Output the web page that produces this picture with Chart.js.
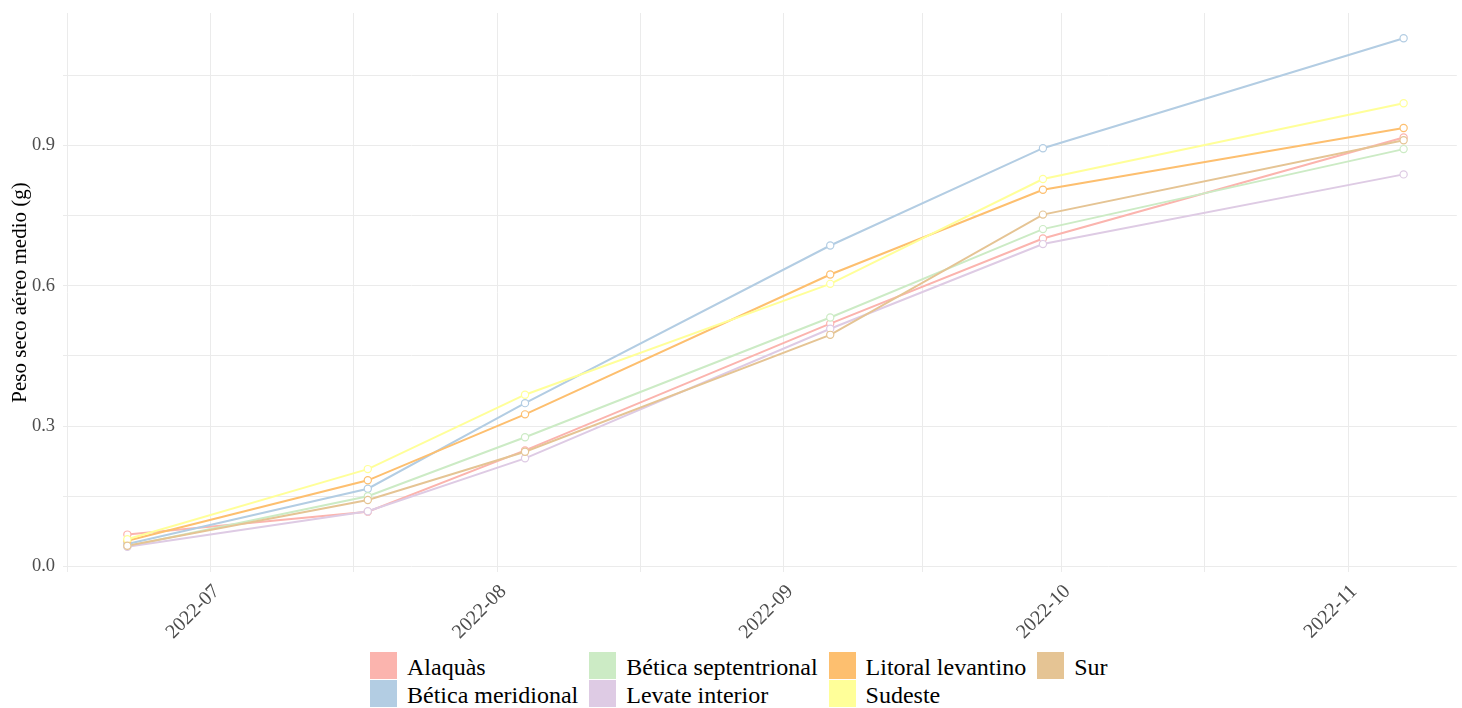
<!DOCTYPE html>
<html>
<head>
<meta charset="utf-8">
<script src="https://cdn.jsdelivr.net/npm/chart.js@4.4.1/dist/chart.umd.min.js"></script>
<style>
  html, body { margin: 0; padding: 0; background: #fff; }
  #wrap { position: relative; width: 1462px; height: 708px; overflow: hidden; }
  #box { position: absolute; left: 0; top: 0; width: 1462px; height: 650px; }
  #legend {
    position: absolute; left: 370px; top: 652px;
    display: grid; grid-template-rows: repeat(2, 27px); grid-auto-flow: column;
    column-gap: 11px; row-gap: 1px;
    font-family: "Liberation Serif", "Times New Roman", serif; font-size: 24px; color: #000;
  }
  .item { display: flex; align-items: flex-start; height: 27px; white-space: nowrap; }
  .key { width: 27px; height: 27px; margin-right: 10px; flex: none; }
  .lab { line-height: 27px; position: relative; top: 2px; }
</style>
</head>
<body>
<div id="wrap">
  <div id="box"><canvas id="chart"></canvas></div>
  <div id="legend"></div>
</div>
<script>
// sampling dates
const dates = ['2022-06-22', '2022-07-18', '2022-08-04', '2022-09-06', '2022-09-29', '2022-11-07'];

// peso seco aereo medio (g) por zona
const alaquas      = [0.068, 0.117, 0.248, 0.519, 0.701, 0.917];
const beticaMerid  = [0.048, 0.166, 0.349, 0.686, 0.894, 1.129];
const beticaSept   = [0.043, 0.150, 0.276, 0.532, 0.721, 0.892];
const levateInt    = [0.042, 0.118, 0.231, 0.508, 0.689, 0.838];
const litoralLev   = [0.055, 0.184, 0.325, 0.624, 0.805, 0.937];
const sudeste      = [0.058, 0.208, 0.367, 0.604, 0.828, 0.990];
const sur          = [0.044, 0.142, 0.245, 0.495, 0.752, 0.911];

const zonas = ['Alaquàs', 'Bética meridional', 'Bética septentrional', 'Levate interior', 'Litoral levantino', 'Sudeste', 'Sur'];
const valores = [alaquas, beticaMerid, beticaSept, levateInt, litoralLev, sudeste, sur];
const colores = ['#FBB4AE', '#B3CDE3', '#CCEBC5', '#DECBE4', '#FDBF6F', '#FFFF99', '#E5C494'];

// axis breaks
const monthTicks = ['2022-07', '2022-08', '2022-09', '2022-10', '2022-11'];
const yTicks = [0.0, 0.3, 0.6, 0.9];

const ts = d => Date.parse(d + (d.length === 7 ? '-01' : '') + 'T00:00:00Z');
const majors = monthTicks.map(ts);
const step = majors[1] - majors[0];
const ext = [majors[0] - step, ...majors, majors[majors.length - 1] + step];
const minors = ext.slice(1).map((m, i) => (m + ext[i]) / 2);
const xTickVals = [...majors, ...minors].sort((a, b) => a - b);
const yMinor = yTicks.map(v => v + 0.15);
const yTickVals = [...yTicks, ...yMinor].sort((a, b) => a - b);

const lines = valores.map((vals, i) => ({
  label: zonas[i],
  data: vals.map((v, j) => ({ x: ts(dates[j]), y: v })),
  borderColor: colores[i],
  borderWidth: 2,
  pointRadius: 0,
  tension: 0,
  order: 20 - i
}));
const points = valores.map((vals, i) => ({
  label: zonas[i] + ' pts',
  data: vals.map((v, j) => ({ x: ts(dates[j]), y: v })),
  showLine: false,
  pointRadius: 3.6,
  pointBorderWidth: 1.2,
  pointBorderColor: colores[i],
  pointBackgroundColor: '#ffffff',
  order: 10 - i
}));

new Chart(document.getElementById('chart'), {
  type: 'line',
  data: { datasets: [...lines, ...points] },
  options: {
    responsive: true,
    maintainAspectRatio: false,
    animation: false,
    layout: { padding: { top: 13, left: 0, right: 0, bottom: 0 } },
    plugins: { legend: { display: false }, tooltip: { enabled: false } },
    scales: {
      x: {
        type: 'linear',
        min: Date.UTC(2022, 5, 15, 1),
        max: Date.UTC(2022, 10, 12, 18),
        afterBuildTicks: s => { s.ticks = xTickVals.map(v => ({ value: v })); },
        afterFit: s => { s.height = 78; s.paddingLeft = 0; s.paddingRight = 0; },
        ticks: {
          autoSkip: false,
          minRotation: 45,
          maxRotation: 45,
          padding: 8,
          labelOffset: 6,
          color: '#4D4D4D',
          font: { family: 'Liberation Serif', size: 20 },
          callback: v => {
            const d = new Date(v);
            if (d.getUTCDate() !== 1 || d.getUTCHours() !== 0) return '';
            return d.getUTCFullYear() + '-' + String(d.getUTCMonth() + 1).padStart(2, '0');
          }
        },
        grid: { color: '#EBEBEB', lineWidth: 1, drawTicks: false },
        border: { display: false }
      },
      y: {
        min: -0.012,
        max: 1.183,
        afterBuildTicks: s => { s.ticks = yTickVals.map(v => ({ value: v })); },
        afterFit: s => { s.width = 63; s.paddingTop = 0; s.paddingBottom = 0; },
        title: {
          display: true,
          text: 'Peso seco aéreo medio (g)',
          color: '#000',
          font: { family: 'Liberation Serif', size: 21 },
          padding: { top: 8, bottom: 0 }
        },
        ticks: {
          padding: 8,
          color: '#4D4D4D',
          font: { family: 'Liberation Serif', size: 18.5 },
          callback: v => yTicks.some(t => Math.abs(t - v) < 1e-9) ? v.toFixed(1) : ''
        },
        grid: { color: '#EBEBEB', lineWidth: 1, drawTicks: false },
        border: { display: false }
      }
    }
  }
});

// legend, filled by columns of two rows
const legend = document.getElementById('legend');
zonas.forEach((z, i) => {
  const it = document.createElement('div');
  it.className = 'item';
  it.innerHTML = `<span class="key" style="background:${colores[i]}"></span><span class="lab">${z}</span>`;
  legend.appendChild(it);
});
</script>
</body>
</html>
